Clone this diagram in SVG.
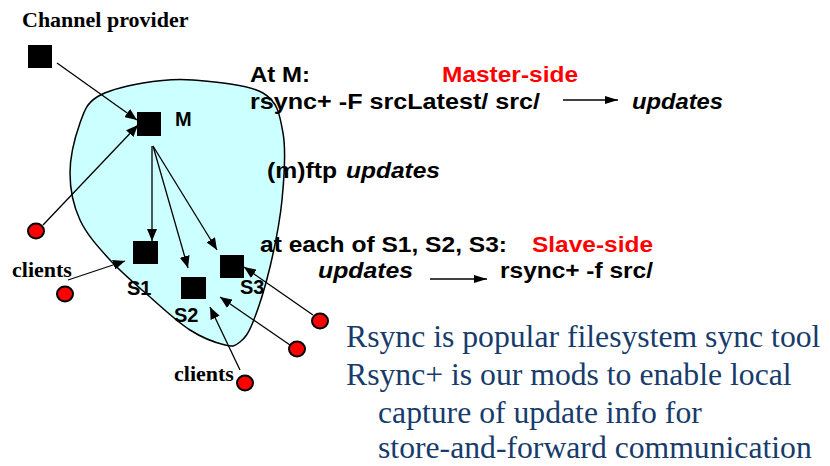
<svg xmlns="http://www.w3.org/2000/svg" width="830" height="466" viewBox="0 0 830 466">
<style>
.sq{fill:#000}
.cl{fill:#ff0000;stroke:#000;stroke-width:2}
.ln{fill:none;stroke:#000;stroke-width:1.3}
.lab{font-family:"Liberation Sans",Arial,sans-serif;font-weight:bold;font-size:20px;fill:#000}
.tb{font-family:"Liberation Sans",Arial,sans-serif;font-weight:bold;font-size:22px;fill:#000}
.it{font-style:italic}
.red{fill:#ff0000}
.ser{font-family:"Liberation Serif","Times New Roman",serif;font-weight:bold;font-size:22px;fill:#000}
.blue{font-family:"Liberation Serif","Times New Roman",serif;font-size:31.7px;fill:#173c6b}
</style>
<defs>
<marker id="ah" markerUnits="userSpaceOnUse" markerWidth="12" markerHeight="10" refX="12" refY="5" orient="auto">
<path d="M0,0 L12,5 L0,10 Z" fill="#000"/>
</marker>
<marker id="ah2" markerUnits="userSpaceOnUse" markerWidth="13" markerHeight="8" refX="13" refY="4" orient="auto">
<path d="M0,0 L13,4 L0,8 Z" fill="#000"/>
</marker>
</defs>
<rect width="830" height="466" fill="#fff"/>
<g id="cloud">
<path d="M80,123 C84.5,110.3 86.5,103.7 97,97 C107.5,90.3 127,85.8 143,83 C159,80.2 173,78.3 193,80 C213,81.7 248,84.2 263,93 C278,101.8 279.8,115.2 283,133 C286.2,150.8 284.2,177.7 282,200 C279.8,222.3 274.8,246.7 270,267 C265.2,287.3 258,309.5 253,322 C248,334.5 244.7,338.2 240,342 C235.3,345.8 233.3,347 225,345 C216.7,343 202.5,338 190,330 C177.5,322 163.3,308.7 150,297 C136.7,285.3 121.7,272.8 110,260 C98.3,247.2 86.7,234.5 80,220 C73.3,205.5 70,189.2 70,173 C70,156.8 75.5,135.7 80,123 Z" fill="#ccffff" stroke="#000" stroke-width="1.5"/>
</g>
<g id="provider">
<rect class="sq" x="28" y="45" width="24" height="23"/>
<text class="ser" x="22" y="27">Channel provider</text>
</g>
<g id="M">
<rect class="sq" x="137" y="112" width="24" height="24"/>
<text class="lab" x="175" y="126">M</text>
</g>
<g id="S1">
<rect class="sq" x="133" y="241" width="25" height="23"/>
<text class="lab" x="127" y="295">S1</text>
</g>
<g id="S2">
<rect class="sq" x="181" y="277" width="25" height="22"/>
<text class="lab" x="174" y="322">S2</text>
</g>
<g id="S3">
<rect class="sq" x="220" y="255" width="24" height="23"/>
<text class="lab" x="240" y="294">S3</text>
</g>
<g id="clients">
<ellipse class="cl" cx="36" cy="231" rx="8" ry="7.5"/>
<ellipse class="cl" cx="65" cy="294" rx="8" ry="7.5"/>
<ellipse class="cl" cx="245" cy="383" rx="8" ry="7.5"/>
<ellipse class="cl" cx="297" cy="349" rx="8" ry="7.5"/>
<ellipse class="cl" cx="320" cy="321" rx="8" ry="7.5"/>
<text class="ser" x="12" y="277">clients</text>
<text class="ser" x="174" y="381">clients</text>
</g>
<g id="connectors">
<line class="ln" x1="57" y1="63" x2="137" y2="120" marker-end="url(#ah)"/>
<line class="ln" x1="43" y1="225" x2="138" y2="125" marker-end="url(#ah)"/>
<line class="ln" x1="152" y1="146" x2="152" y2="241" marker-end="url(#ah)"/>
<line class="ln" x1="153" y1="146" x2="188" y2="268" marker-end="url(#ah)"/>
<line class="ln" x1="153" y1="146" x2="217" y2="250" marker-end="url(#ah)"/>
<line class="ln" x1="68" y1="280" x2="125" y2="261" marker-end="url(#ah)"/>
<line class="ln" x1="240" y1="370" x2="210" y2="307" marker-end="url(#ah)"/>
<line class="ln" x1="290" y1="345" x2="220" y2="297" marker-end="url(#ah)"/>
<line class="ln" x1="313" y1="315" x2="244" y2="267" marker-end="url(#ah)"/>
<line class="ln" x1="563" y1="100" x2="618" y2="100" marker-end="url(#ah2)"/>
<line class="ln" x1="430" y1="279" x2="487" y2="279" marker-end="url(#ah2)"/>
</g>
<g id="master-text">
<text class="tb" x="250" y="82" textLength="60" lengthAdjust="spacingAndGlyphs">At M:</text>
<text class="tb red" x="442" y="82" textLength="136" lengthAdjust="spacingAndGlyphs">Master-side</text>
<text class="tb" x="250" y="109" textLength="290" lengthAdjust="spacingAndGlyphs">rsync+ -F srcLatest/ src/</text>
<text class="tb it" x="632" y="109" textLength="91" lengthAdjust="spacingAndGlyphs">updates</text>
</g>
<g id="ftp-text">
<text class="tb" x="267" y="178" textLength="70" lengthAdjust="spacingAndGlyphs">(m)ftp</text>
<text class="tb it" x="346" y="178" textLength="94" lengthAdjust="spacingAndGlyphs">updates</text>
</g>
<g id="slave-text">
<text class="tb" x="260" y="252" textLength="247" lengthAdjust="spacingAndGlyphs">at each of S1, S2, S3:</text>
<text class="tb red" x="532" y="252" textLength="121" lengthAdjust="spacingAndGlyphs">Slave-side</text>
<text class="tb it" x="318" y="278" textLength="95" lengthAdjust="spacingAndGlyphs">updates</text>
<text class="tb" x="500" y="278" textLength="153" lengthAdjust="spacingAndGlyphs">rsync+ -f src/</text>
</g>
<g id="notes">
<text class="blue" x="346" y="347">Rsync is popular filesystem sync tool</text>
<text class="blue" x="346" y="385">Rsync+ is our mods to enable local</text>
<text class="blue" x="378" y="423">capture of update info for</text>
<text class="blue" x="378" y="458">store-and-forward communication</text>
</g>
</svg>
